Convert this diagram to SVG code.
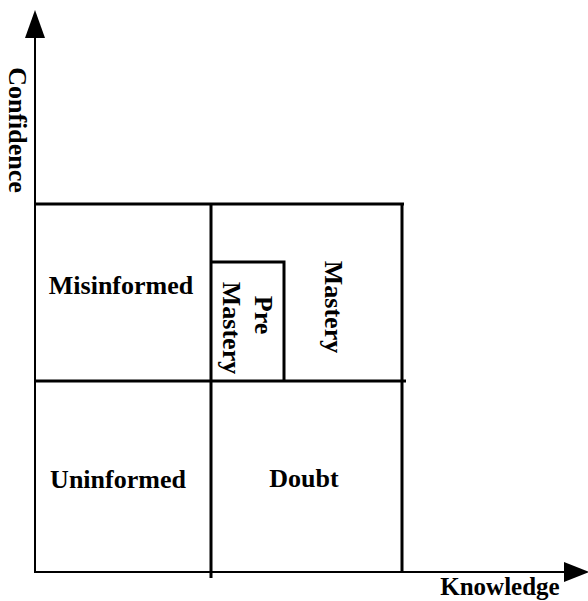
<svg xmlns="http://www.w3.org/2000/svg" width="588" height="601" viewBox="0 0 588 601">
<style>
.t{font-family:"Liberation Serif","Times New Roman",serif;font-weight:bold;font-size:26px;fill:#000}
.ln{stroke:#000;stroke-width:3;fill:none}
.ax{stroke:#000;stroke-width:2;fill:none}
</style>
<rect width="588" height="601" fill="#fff"/>
<g id="connectors">
<line class="ax" x1="35" y1="573" x2="35" y2="34"/>
<polygon points="35,10 25,38 45,38" fill="#000"/>
<line class="ax" x1="34" y1="572" x2="568" y2="572"/>
<polygon points="589,572 564,562 564,582" fill="#000"/>
</g>
<g id="misinformed">
<line class="ln" x1="35" y1="204" x2="404" y2="204"/>
<text class="t" x="121" y="294" text-anchor="middle">Misinformed</text>
</g>
<g id="uninformed">
<line class="ln" x1="35" y1="381" x2="406" y2="381"/>
<text class="t" x="118" y="488" text-anchor="middle">Uninformed</text>
</g>
<g id="doubt">
<line class="ln" x1="211" y1="204" x2="211" y2="578"/>
<text class="t" x="304" y="487" text-anchor="middle">Doubt</text>
</g>
<g id="mastery">
<line class="ln" x1="402" y1="204" x2="402" y2="572"/>
<text class="t" transform="translate(325,307) rotate(90)" text-anchor="middle">Mastery</text>
</g>
<g id="pre-mastery">
<polyline class="ln" points="211,262 284,262 284,381"/>
<text class="t" transform="translate(255,315) rotate(90)" text-anchor="middle">Pre</text>
<text class="t" transform="translate(223,328) rotate(90)" text-anchor="middle">Mastery</text>
</g>
<g id="axis-labels">
<text class="t" transform="translate(9,130) rotate(90)" text-anchor="middle">Confidence</text>
<text class="t" x="500" y="595" text-anchor="middle" style="font-size:25px">Knowledge</text>
</g>
</svg>
